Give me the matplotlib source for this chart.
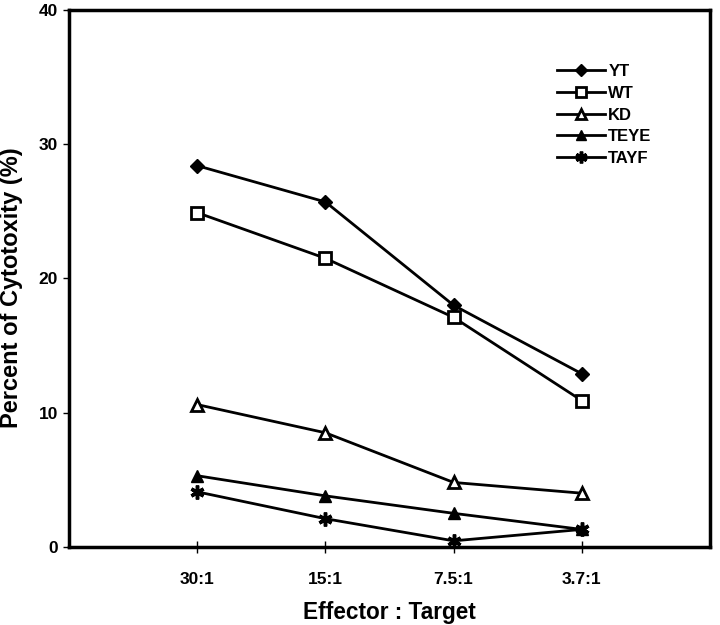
import matplotlib
matplotlib.use("Agg")
import matplotlib.pyplot as plt

plt.rcParams["font.family"] = ["Liberation Sans", "DejaVu Sans"]
plt.rcParams["font.weight"] = "bold"

# ---------- data ----------
ratios = ["30:1", "15:1", "7.5:1", "3.7:1"]
yt = [28.4, 25.7, 18.0, 12.9]
wt = [24.9, 21.5, 17.1, 10.9]
kd = [10.6, 8.5, 4.8, 4.0]
teye = [5.3, 3.8, 2.5, 1.3]
tayf = [4.1, 2.1, 0.45, 1.3]

x = [1, 2, 3, 4]

fig = plt.figure(figsize=(7.2, 6.25), dpi=100)
ax = fig.add_axes([0.096, 0.125, 0.89, 0.859])

kw = dict(color="black", lw=2.0)
ax.plot(x, yt, marker="D", ms=7, mfc="black", mec="black", label="YT", **kw)
ax.plot(x, wt, marker="s", ms=8, mfc="white", mec="black", mew=2, label="WT", **kw)
ax.plot(x, kd, marker="^", ms=9, mfc="white", mec="black", mew=2, label="KD", **kw)
ax.plot(x, teye, marker="^", ms=9, mfc="black", mec="black", label="TEYE", **kw)
ax.plot(x, tayf, marker=(6, 2, 0), ms=10, mec="black", mew=2.5, label="TAYF", **kw)

ax.set_xlim(0, 5)
ax.set_ylim(0, 40)
ax.set_xticks(x)
ax.set_xticklabels(ratios, fontsize=12.5, fontweight="bold")
ax.set_yticks([0, 10, 20, 30, 40])
ax.set_yticklabels(["0", "10", "20", "30", "40"], fontsize=12.5, fontweight="bold")
ax.tick_params(axis="y", length=4, width=1, direction="out", pad=4)
ax.tick_params(axis="x", length=8, width=1, direction="inout", pad=14)
for s in ax.spines.values():
    s.set_linewidth(2.5)

ax.set_xlabel("Effector : Target", fontsize=16.3, fontweight="bold", labelpad=10)
ax.set_ylabel("Percent of Cytotoxity (%)", fontsize=17, fontweight="bold")
ax.yaxis.set_label_coords(-0.072, 0.482)

leg = ax.legend(loc="upper left", bbox_to_anchor=(0.738, 0.927), frameon=False,
                handlelength=2.9, handletextpad=0.18, labelspacing=0.4,
                markerscale=0.85, prop={"weight": "bold", "size": 12})

fig.savefig("out.png", dpi=100)
